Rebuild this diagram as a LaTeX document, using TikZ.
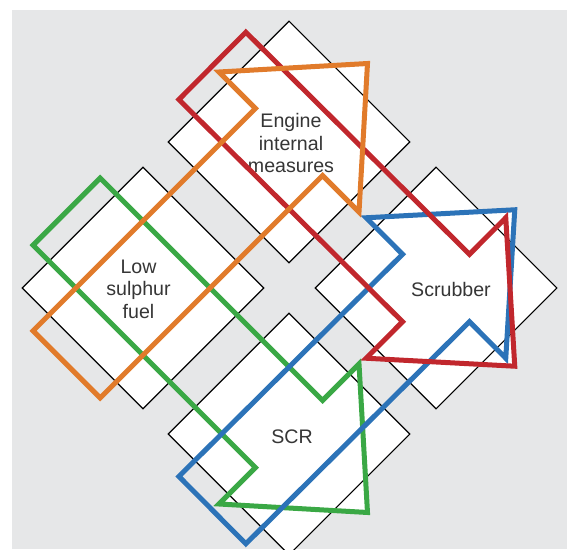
\documentclass[tikz,border=0pt]{standalone}
\usepackage{fontspec}
\setmainfont{Liberation Sans}
\usetikzlibrary{calc,shapes.geometric}
\definecolor{bggray}{HTML}{E6E7E8}
\definecolor{aorange}{HTML}{E17B2B}
\definecolor{ared}{HTML}{C1272D}
\definecolor{agreen}{HTML}{3AA845}
\definecolor{ablue}{HTML}{2C73B8}
\definecolor{txtgray}{HTML}{363636}
% fat arrow coordinates: #1 name, #2 from centre, #3 to centre
\newcommand\defarrow[3]{%
  \coordinate (#1-t) at ($(#2)!-108pt!(#3)$);
  \coordinate (#1-1) at ($(#1-t)!47.5pt!90:(#3)$);
  \coordinate (#1-2) at ($(#3)!47.5pt!-90:(#2)$);
  \coordinate (#1-3) at ($(#3)!99pt!-90:(#2)$);
  \coordinate (#1-4) at ($(#3)!-111pt!(#2)$);
  \coordinate (#1-5) at ($(#3)!99pt!90:(#2)$);
  \coordinate (#1-6) at ($(#3)!47.5pt!90:(#2)$);
  \coordinate (#1-7) at ($(#1-t)!47.5pt!-90:(#3)$);
}
\newcommand\headfill[1]{\fill[white] (#1-3) -- (#1-4) -- (#1-5) -- cycle;}
\newcommand\fatoutline[2]{\draw[arrowline, draw=#2] (#1-1) -- (#1-2) -- (#1-3) -- (#1-4) -- (#1-5) -- (#1-6) -- (#1-7) -- cycle;}
\begin{document}
\begin{tikzpicture}[x=1pt,y=1pt,
  diam/.style={shape=diamond, minimum width=242pt, minimum height=242pt, inner sep=0pt,
    draw=black, line width=1.1pt, fill=white},
  lbl/.style={text=txtgray, align=center, inner sep=0pt,
    font=\fontsize{19.6}{22.5}\selectfont},
  arrowline/.style={line width=5pt, miter limit=10}]
\useasboundingbox (0,0) rectangle (567,549);
\fill[bggray] (12,0) rectangle (567,539);
% diamond centres
\coordinate (cE) at (289,407);
\coordinate (cL) at (143,261);
\coordinate (cS) at (436,261);
\coordinate (cR) at (289,115);
\defarrow{or}{cL}{cE}
\defarrow{rd}{cE}{cS}
\defarrow{gr}{cL}{cR}
\defarrow{bl}{cR}{cS}
\headfill{or}\headfill{rd}\headfill{gr}\headfill{bl}
\node[diam] (engine) at (cE) {};
\node[diam] (low) at (cL) {};
\node[diam] (scrubber) at (cS) {};
\node[diam] (scr) at (cR) {};
\node[lbl] (engine-t) at ($(engine.center)+(2,-1)$) {Engine\\internal\\measures};
\node[lbl] (low-t) at ($(low.center)+(-4.5,-1)$) {Low\\sulphur\\fuel};
\node[lbl] (scrubber-t) at ($(scrubber.center)+(15,-1)$) {Scrubber};
\node[lbl] (scr-t) at ($(scr.center)+(3,-3)$) {SCR};
\fatoutline{gr}{agreen}
\fatoutline{bl}{ablue}
\fatoutline{rd}{ared}
\fatoutline{or}{aorange}
\end{tikzpicture}
\end{document}
